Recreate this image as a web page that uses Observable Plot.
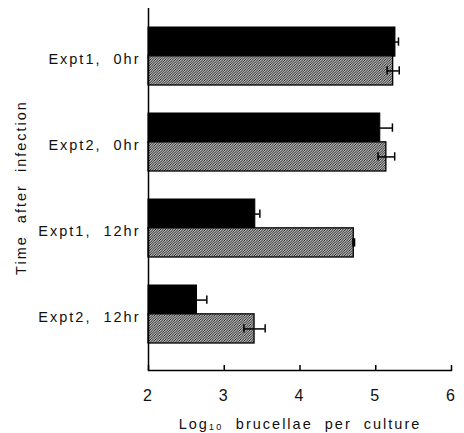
<!DOCTYPE html>
<html>
<head>
<meta charset="utf-8">
<script src="https://cdn.jsdelivr.net/npm/d3@7"></script>
<script src="https://cdn.jsdelivr.net/npm/@observablehq/plot@0.6"></script>
<style>
  body { margin: 0; background: #fff; }
</style>
</head>
<body>
<div id="chart"></div>
<script>
const groups = ["Expt1,  0hr", "Expt2,  0hr", "Expt1,  12hr", "Expt2,  12hr"];
const blackValues = [5.26, 5.06, 3.41, 2.64];
const blackErrors = [0.04, 0.16, 0.06, 0.13];
const hatchedValues = [5.23, 5.14, 4.71, 3.40];
const hatchedErrors = [0.08, 0.11, 0.01, 0.14];
const xTicks = [2, 3, 4, 5, 6];
const xLabel = "Log₁₀  brucellae  per  culture";
const yLabel = "Time  after  infection";

const black = groups.map((g, i) => ({group: g, value: blackValues[i], err: blackErrors[i]}));
const hatched = groups.map((g, i) => ({group: g, value: hatchedValues[i], err: hatchedErrors[i]}));

const bw = 316 / (4 - 0.33) * 0.67;
const half = bw / 2;

const chart = Plot.plot({
  width: 464,
  height: 433,
  marginLeft: 148,
  marginRight: 13,
  marginTop: 8,
  marginBottom: 63,
  style: {fontFamily: "'Liberation Sans', Arial, sans-serif", fontSize: "14px", letterSpacing: "2px", color: "#111", background: "#fff"},
  x: {domain: [2, 6]},
  y: {domain: groups, range: [27, 343], paddingInner: 0.33, paddingOuter: 0},
  marks: [
    Plot.barX(black, {y: "group", x1: 2, x2: "value", fill: "#000", stroke: "#000", strokeWidth: 1, insetBottom: half}),
    Plot.barX(hatched, {y: "group", x1: 2, x2: "value", fill: "url(#hatch)", stroke: "#000", strokeWidth: 1.3, insetTop: half}),
    Plot.ruleY(black, {y: "group", x1: d => d.value - d.err, x2: d => d.value + d.err, dy: -half / 2, stroke: "#000", strokeWidth: 1.5}),
    Plot.tickX(black, {y: "group", x: d => d.value + d.err, insetTop: half / 2 - 4, insetBottom: bw - half / 2 - 4, stroke: "#000", strokeWidth: 1.5}),
    Plot.ruleY(hatched, {y: "group", x1: d => d.value - d.err, x2: d => d.value + d.err, dy: half / 2, stroke: "#000", strokeWidth: 1.5}),
    Plot.tickX(hatched, {y: "group", x: d => d.value + d.err, insetTop: bw - half / 2 - 4, insetBottom: half / 2 - 4, stroke: "#000", strokeWidth: 1.5}),
    Plot.tickX(hatched, {y: "group", x: d => d.value - d.err, insetTop: bw - half / 2 - 4, insetBottom: half / 2 - 4, stroke: "#000", strokeWidth: 1.5}),
    Plot.ruleX([2], {stroke: "#000", strokeWidth: 1.5}),
    Plot.frame({anchor: "bottom", stroke: "#000", strokeWidth: 1.5}),
    Plot.ruleX(xTicks, {insetTop: 357, stroke: "#000", strokeWidth: 1.5}),
    Plot.axisX({ticks: xTicks, tickSize: 0, tickPadding: 19, tickFormat: d => String(d), label: null, fontSize: 16}),
    Plot.axisY({tickSize: 0, tickPadding: 8, dy: 3, label: null, fontSize: 14.5}),
    Plot.text([xLabel], {frameAnchor: "bottom", dy: 58, fontSize: 14.5}),
    Plot.text([yLabel], {frameAnchor: "left", dx: -127, dy: -2, rotate: -90, textAnchor: "middle", fontSize: 14.5})
  ]
});

const svg = d3.select(chart);
const defs = svg.insert("defs", ":first-child");
const pat = defs.append("pattern")
  .attr("id", "hatch")
  .attr("patternUnits", "userSpaceOnUse")
  .attr("width", 2.5)
  .attr("height", 2.5);
pat.append("rect").attr("width", 2.5).attr("height", 2.5).attr("fill", "#fff");
pat.append("path")
  .attr("d", "M-0.625,0.625 L0.625,-0.625 M0,2.5 L2.5,0 M1.875,3.125 L3.125,1.875")
  .attr("stroke", "#000")
  .attr("stroke-width", 0.9);

document.getElementById("chart").appendChild(chart);
</script>
</body>
</html>
